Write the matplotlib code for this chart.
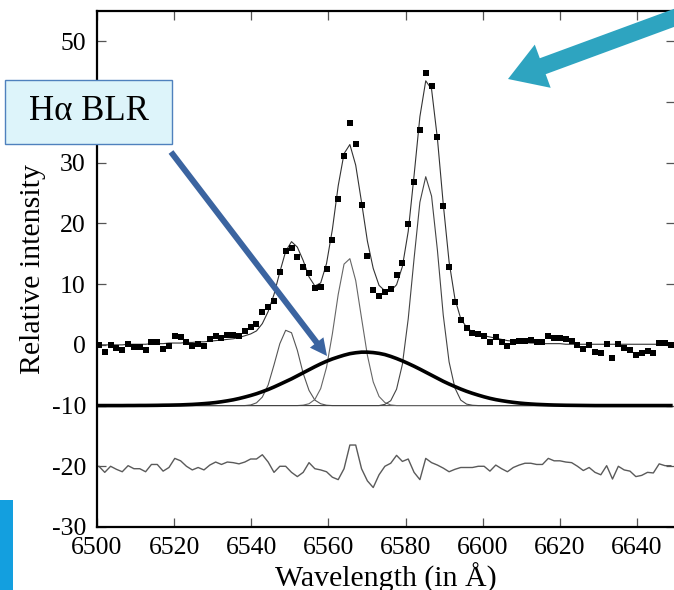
import matplotlib
matplotlib.use("Agg")
from matplotlib import pyplot as plt
from matplotlib.patches import FancyArrow, Rectangle
from matplotlib.transforms import IdentityTransform
import numpy as np

plt.rcParams['font.family'] = ['Liberation Serif', 'DejaVu Serif']
plt.rcParams['axes.unicode_minus'] = False

# sampling grid of the spectrum (Angstrom)
wavelength = np.linspace(6500.5, 6648.8, 99)

# observed spectrum (squares)
observed = [
    0.0, -1.1, 0.0, -0.5, -0.9, 0.2, -0.4, -0.3, -0.8, 0.4,
    0.4, -0.7, -0.2, 1.5, 1.3, 0.4, -0.2, 0.2, -0.2, 0.9,
    1.4, 1.1, 1.6, 1.6, 1.5, 2.3, 2.9, 3.4, 5.4, 6.2,
    7.3, 12.0, 15.4, 16.0, 14.4, 12.9, 11.8, 9.3, 9.6, 12.5,
    17.2, 24.0, 31.1, 36.5, 33.1, 23.1, 14.7, 9.1, 8.0, 8.7,
    9.2, 11.5, 13.5, 19.9, 26.9, 35.4, 44.8, 42.7, 34.2, 22.9,
    12.8, 7.1, 4.1, 2.7, 1.9, 1.8, 1.4, 0.4, 1.3, 0.4,
    -0.2, 0.4, 0.7, 0.7, 0.8, 0.5, 0.5, 1.5, 1.1, 1.2,
    0.9, 0.7, 0.0, -0.7, -0.1, -1.1, -1.4, 0.1, -2.1, 0.1,
    -0.5, -0.8, -1.6, -1.4, -1.0, -1.3, 0.3, 0.3, 0.0,
]

# total fit
fit_total = [
    0.0, 0.0, 0.0, 0.0, 0.0, 0.1, 0.1, 0.1, 0.1, 0.2,
    0.2, 0.2, 0.3, 0.3, 0.3, 0.4, 0.4, 0.5, 0.5, 0.6,
    0.7, 0.8, 0.9, 1.0, 1.2, 1.5, 1.8, 2.3, 3.5, 5.5,
    8.3, 12.0, 15.4, 17.0, 16.1, 13.9, 11.2, 9.7, 10.2, 13.4,
    19.0, 26.2, 31.5, 33.0, 29.6, 23.5, 17.1, 12.6, 9.8, 8.9,
    8.9, 9.9, 12.9, 18.7, 27.9, 37.6, 43.5, 42.1, 34.0, 23.2,
    13.7, 7.6, 4.3, 2.9, 2.1, 1.8, 1.5, 1.3, 1.1, 0.9,
    0.7, 0.6, 0.5, 0.4, 0.3, 0.3, 0.2, 0.2, 0.2, 0.2,
] + [0.1] * 19

# narrow components (offset to -10)
comp_nii_a = [-10.0] * 26 + [
    -9.9, -9.55, -8.6, -6.6, -3.3, 0.2, 2.4, 2.0, -0.9, -4.7,
    -7.5, -9.1, -9.7, -9.94,
] + [-10.0] * 59

comp_halpha_n = [-10.0] * 35 + [
    -9.93, -9.7, -9.0, -7.2, -3.7, 1.8, 8.3, 13.3, 14.2, 10.6,
    4.4, -1.7, -6.1, -8.5, -9.5, -9.9,
] + [-10.0] * 48

comp_nii_b = [-10.0] * 49 + [
    -9.8, -9.2, -7.3, -3.2, 4.3, 14.2, 23.5, 27.7, 24.5, 15.6,
    4.9, -2.8, -7.1, -9.1, -9.76, -9.95,
] + [-10.0] * 34

# broad H-alpha component
comp_blr = [-10.0] * 5 + [
    -9.99, -9.99, -9.98, -9.98,
    -9.97, -9.96, -9.94, -9.93, -9.91, -9.89, -9.85, -9.81, -9.75, -9.68, -9.6,
    -9.5, -9.37, -9.22, -9.05, -8.84, -8.6, -8.34, -8.05, -7.71, -7.35,
    -6.94, -6.5, -6.05, -5.6, -5.1, -4.6, -4.1, -3.6, -3.13, -2.7,
    -2.32, -2.0, -1.7, -1.45, -1.3, -1.2, -1.2, -1.27, -1.4, -1.6,
    -1.9, -2.25, -2.64, -3.07, -3.52, -4.0, -4.5, -5.0, -5.5, -6.0,
    -6.45, -6.87, -7.28, -7.65, -7.98, -8.28, -8.56, -8.81, -9.02, -9.19,
    -9.34, -9.47, -9.58, -9.67, -9.74, -9.8, -9.84, -9.88, -9.91, -9.93,
    -9.95, -9.96, -9.97, -9.98, -9.99,
] + [-10.0] * 14

# residuals (offset to -20)
residual = [
    -20.0, -21.0, -20.0, -20.5, -20.9, -19.9, -20.4, -20.4, -20.9, -19.7,
    -19.7, -20.8, -20.2, -18.7, -19.1, -20.0, -20.6, -20.2, -20.6, -19.8,
    -19.3, -19.7, -19.3, -19.4, -19.6, -19.3, -18.8, -18.8, -18.1, -19.3,
    -21.0, -20.0, -20.0, -21.0, -21.7, -21.0, -19.4, -20.4, -20.6, -20.9,
    -21.8, -22.2, -20.4, -16.5, -16.5, -20.4, -22.4, -23.5, -21.4, -20.0,
    -19.5, -18.2, -19.2, -18.8, -21.0, -22.2, -18.7, -19.4, -19.8, -20.3,
    -20.9, -20.5, -20.2, -20.2, -20.2, -20.0, -20.0, -20.8, -19.8, -20.4,
    -20.9, -20.2, -19.8, -19.5, -19.5, -19.7, -19.7, -18.7, -19.1, -19.1,
    -19.3, -19.4, -20.0, -20.7, -20.2, -21.0, -21.4, -19.9, -22.1, -20.0,
    -20.6, -20.8, -21.7, -21.5, -21.0, -21.1, -19.6, -19.9, -19.9,
]

x_ticks = [6500, 6520, 6540, 6560, 6580, 6600, 6620, 6640]
y_ticks = [-30, -20, -10, 0, 10, 20, 30, 40, 50]

fig = plt.figure(figsize=(6.74, 5.90), dpi=100)
ax = fig.add_axes([0.1439, 0.1068, 0.8583, 0.8746])

ax.plot(wavelength, comp_nii_a, color='#555555', lw=0.8)
ax.plot(wavelength, comp_halpha_n, color='#666666', lw=0.8)
ax.plot(wavelength, comp_nii_b, color='#444444', lw=0.8)
ax.plot(wavelength, comp_blr, color='black', lw=2.6)
ax.plot(wavelength, residual, color='#5a5a5a', lw=1.0)
ax.plot(wavelength, fit_total, color='#333333', lw=0.8)
ax.plot(wavelength, observed, 's', color='black', ms=3.8, mew=0)

ax.set_xlim(6500, 6650)
ax.set_ylim(-30, 55)
ax.set_xticks(x_ticks)
ax.set_yticks(y_ticks)
ax.tick_params(direction='in', length=6.5, width=0.9, color='#555555',
               top=True, right=True, labelsize=18.5)
ax.tick_params(axis='x', pad=7)
ax.tick_params(axis='y', pad=8)
for side in ['left', 'bottom', 'top', 'right']:
    ax.spines[side].set_linewidth(1.6)

ax.set_xlabel('Wavelength (in Å)', fontsize=21.5)
ax.set_ylabel('Relative intensity', fontsize=21.5)
ax.xaxis.set_label_coords(0.5, -0.07)
ax.yaxis.set_label_coords(-0.088, 0.5)

# annotations drawn in figure pixels
px = IdentityTransform()
fig.add_artist(Rectangle((0, 0), 13, 90, transform=px, color='#139fdf', lw=0))
fig.add_artist(Rectangle((5, 446), 167, 64, transform=px,
                         facecolor='#ddf4fa', edgecolor='#4f81bd', lw=1))
fig.text(88.5 / 674, 478 / 590, 'Hα BLR', fontsize=25, ha='center', va='center')

fig.add_artist(FancyArrow(171, 438, 156, -204, width=6, head_width=17,
                          head_length=17, length_includes_head=True,
                          transform=px, color='#3b64a0', lw=0))
fig.add_artist(FancyArrow(690, 578, -182, -67, width=17, head_width=46,
                          head_length=37, length_includes_head=True,
                          transform=px, color='#2ea4c0', lw=0))

fig.savefig('out.png', dpi=100)
